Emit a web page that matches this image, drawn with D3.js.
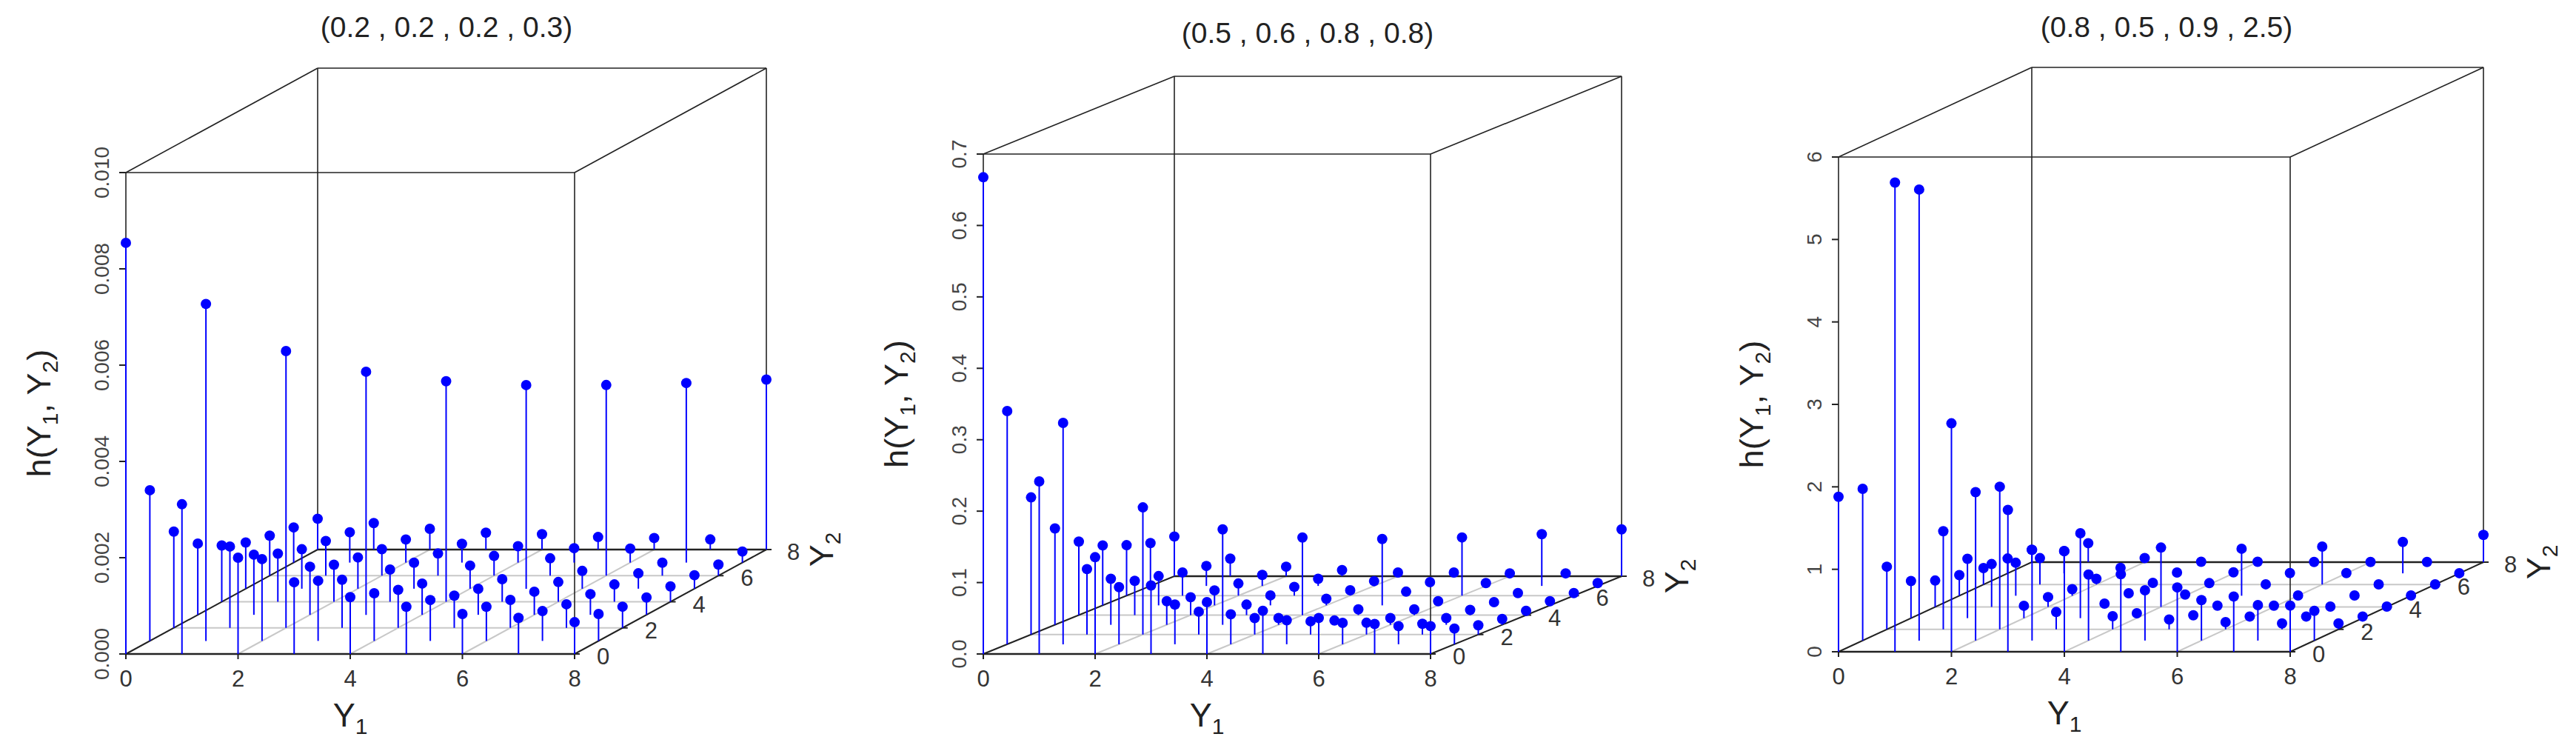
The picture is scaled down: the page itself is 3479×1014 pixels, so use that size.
<!DOCTYPE html>
<html><head><meta charset="utf-8">
<script src="https://cdn.jsdelivr.net/npm/d3@7"></script>
<style>body{margin:0;background:#fff}svg{display:block}</style>
</head><body>
<svg id="c" width="3479" height="1014"></svg>
<script>
// ---- data (rows = Y2 0..8, columns = Y1 0..8) ----
const y1Values = [0,1,2,3,4,5,6,7,8];
const y2Values = [0,1,2,3,4,5,6,7,8];
const y1TickLabels = ["0","2","4","6","8"];
const y2TickLabels = ["0","2","4","6","8"];
const titles = ["(0.2 , 0.2 , 0.2 , 0.3)", "(0.5 , 0.6 , 0.8 , 0.8)", "(0.8 , 0.5 , 0.9 , 2.5)"];
const z1Ticks = ["0.000","0.002","0.004","0.006","0.008","0.010"];
const z2Ticks = ["0.0","0.1","0.2","0.3","0.4","0.5","0.6","0.7"];
const z3Ticks = ["0","1","2","3","4","5","6"];
const h1 = [
 [0.00854,0.00311,0.0020,0.00149,0.00118,0.00098,0.00083,0.00075,0.00066],
 [0.00313,0.0070,0.0017,0.00125,0.00099,0.00085,0.00071,0.00062,0.00056],
 [0.0020,0.00169,0.00575,0.0010,0.00079,0.00067,0.00058,0.00049,0.00044],
 [0.00148,0.00125,0.0010,0.00505,0.00065,0.00054,0.00048,0.00043,0.00036],
 [0.00117,0.0010,0.00077,0.00067,0.00458,0.00047,0.00041,0.00036,0.00032],
 [0.00096,0.00082,0.00065,0.00054,0.00048,0.00423,0.00037,0.00032,0.00028],
 [0.00083,0.00072,0.00055,0.00046,0.00041,0.00036,0.00396,0.00027,0.00023],
 [0.00073,0.00063,0.00048,0.00039,0.00034,0.0003,0.00029,0.00373,0.00023],
 [0.00064,0.00055,0.00043,0.00035,0.00032,0.00026,0.00024,0.00021,0.00353]
];
const h2 = [
 [0.6675,0.2416,0.1355,0.096,0.0726,0.0605,0.0504,0.042,0.039],
 [0.3266,0.31,0.08,0.0556,0.042,0.0335,0.03,0.0254,0.022],
 [0.192,0.0916,0.178,0.032,0.023,0.0185,0.0165,0.015,0.013],
 [0.135,0.0645,0.033,0.1337,0.0095,0.006,0.0095,0.0095,0.0082],
 [0.103,0.048,0.025,0.0147,0.1087,0.008,0.008,0.0073,0.006],
 [0.084,0.041,0.021,0.014,0.0092,0.093,0.0058,0.0046,0.0058],
 [0.0707,0.0325,0.017,0.0123,0.0075,0.0056,0.0815,0.0036,0.0036],
 [0.06,0.028,0.0155,0.01,0.0067,0.0053,0.004,0.0725,0.004],
 [0.0556,0.0247,0.0133,0.0086,0.0052,0.0052,0.004,0.004,0.0656]
];
const h3 = [
 [1.88,5.69,2.77,1.72,1.22,0.94,0.78,0.67,0.56],
 [1.84,5.47,1.80,1.10,0.80,0.61,0.49,0.43,0.36],
 [0.76,1.19,1.73,0.21,0.16,0.12,0.087,0.072,0.072],
 [0.45,0.72,0.15,1.03,0.06,0.035,0.02,0.02,0.02],
 [0.32,0.52,0.12,0.04,0.72,0.016,0.016,0.005,0.004],
 [0.25,0.40,0.08,0.03,0.015,0.57,0.003,0.003,0.003],
 [0.20,0.32,0.07,0.02,0.017,0.003,0.46,0.002,0.002],
 [0.18,0.27,0.066,0.01,0.012,0.003,0.003,0.38,0.002],
 [0.15,0.23,0.05,0.005,0.005,0.002,0.002,0.002,0.33]
];

// ---- layout ----
const panels = [
 {data:h1, zt:z1Ticks, title:titles[0], ox:170, oy:883, w:606, dx:259, dy:141, h:650, tx:603, ty:50},
 {data:h2, zt:z2Ticks, title:titles[1], ox:1328, oy:883, w:604, dx:258, dy:105, h:675, tx:1766, ty:58},
 {data:h3, zt:z3Ticks, title:titles[2], ox:2483, oy:880, w:610, dx:261, dy:121, h:668, tx:2926, ty:50}
];
const svg = d3.select("#c");
const font = "Liberation Sans, Arial, sans-serif";
const blue = "#0000ff";

panels.forEach(p => {
  const g = svg.append("g");
  const zmax = +p.zt[p.zt.length-1];
  const x = d3.scaleLinear().domain([0,8]).range([p.ox, p.ox+p.w]);
  const dxs = d3.scaleLinear().domain([0,8]).range([0,p.dx]);
  const dys = d3.scaleLinear().domain([0,8]).range([0,p.dy]);
  const z = d3.scaleLinear().domain([0,zmax]).range([0,p.h]);
  const P = (a,b,c) => [x(a)+dxs(b), p.oy - dys(b) - z(c)];
  const line = (a,b,st,sw) => g.append("line").attr("x1",a[0]).attr("y1",a[1]).attr("x2",b[0]).attr("y2",b[1]).attr("stroke",st).attr("stroke-width",sw);

  [2,4,6].forEach(v => {
    line(P(0,v,0),P(8,v,0),"#c8c8c8",2);
    line(P(v,0,0),P(v,8,0),"#c8c8c8",2);
  });
  const k = "#222";
  [[0,0],[8,0],[0,8],[8,8]].forEach(([a,b]) => line(P(a,b,0),P(a,b,zmax),k,1.6));
  [0,zmax].forEach(c => {
    line(P(0,0,c),P(8,0,c),k,c===0?2.6:1.6);
    line(P(0,8,c),P(8,8,c),k,c===0?2.6:1.6);
    line(P(0,0,c),P(0,8,c),k,c===0?2:1.6);
    line(P(8,0,c),P(8,8,c),k,c===0?2:1.6);
  });

  p.zt.forEach(t => {
    const pt = P(0,0,+t);
    line([pt[0]-9,pt[1]],pt,k,2);
    g.append("text").attr("transform",`translate(${pt[0]-23},${pt[1]}) rotate(-90)`)
      .attr("text-anchor","middle").attr("font-family",font).attr("font-size",28).attr("fill","#444").text(t);
  });
  y1TickLabels.forEach(t => {
    const pt = P(+t,0,0);
    line(pt,[pt[0],pt[1]+7],k,2);
    g.append("text").attr("x",pt[0]).attr("y",pt[1]+44).attr("text-anchor","middle")
      .attr("font-family",font).attr("font-size",31).attr("fill","#333").text(t);
  });
  y2TickLabels.forEach(t => {
    const pt = P(8,+t,0);
    line(pt,[pt[0]+7,pt[1]],k,2);
    g.append("text").attr("x",pt[0]+(t==="8"?28:30)).attr("y",pt[1]+14).attr("text-anchor","start")
      .attr("font-family",font).attr("font-size",31).attr("fill","#333").text(t);
  });
  const mid = P(4,0,0);
  const t1 = g.append("text").attr("x",mid[0]).attr("y",p.oy+98).attr("text-anchor","middle")
    .attr("font-family",font).attr("font-size",45).attr("fill","#222");
  t1.append("tspan").text("Y");
  t1.append("tspan").attr("font-size",30).attr("dy",10).text("1");
  const zc = P(0,0,zmax/2);
  const t2 = g.append("text").attr("transform",`translate(${p.ox-102},${zc[1]}) rotate(-90)`).attr("text-anchor","middle")
    .attr("font-family",font).attr("font-size",45).attr("fill","#222");
  t2.append("tspan").text("h(Y");
  t2.append("tspan").attr("font-size",30).attr("dy",10).text("1");
  t2.append("tspan").attr("dy",-10).text(", Y");
  t2.append("tspan").attr("font-size",30).attr("dy",10).text("2");
  t2.append("tspan").attr("dy",-10).text(")");
  const cr = P(8,8,0);
  const t3 = g.append("text").attr("transform",`translate(${cr[0]+90},${cr[1]}) rotate(-90)`).attr("text-anchor","middle")
    .attr("font-family",font).attr("font-size",45).attr("fill","#222");
  t3.append("tspan").text("Y");
  t3.append("tspan").attr("font-size",30).attr("dy",10).text("2");
  g.append("text").attr("x",p.tx).attr("y",p.ty).attr("text-anchor","middle")
    .attr("font-family",font).attr("font-size",39).attr("fill","#222").text(p.title);

  const pts = [];
  y2Values.forEach((b,ri) => y1Values.forEach((a,ci) => pts.push({a,b,v:p.data[ri][ci]})));
  pts.forEach(d => {
    const base = P(d.a,d.b,0), top = P(d.a,d.b,d.v);
    line(base,top,blue,2);
    g.append("circle").attr("cx",top[0]).attr("cy",top[1]).attr("r",7).attr("fill",blue);
  });
});
</script>
</body></html>
